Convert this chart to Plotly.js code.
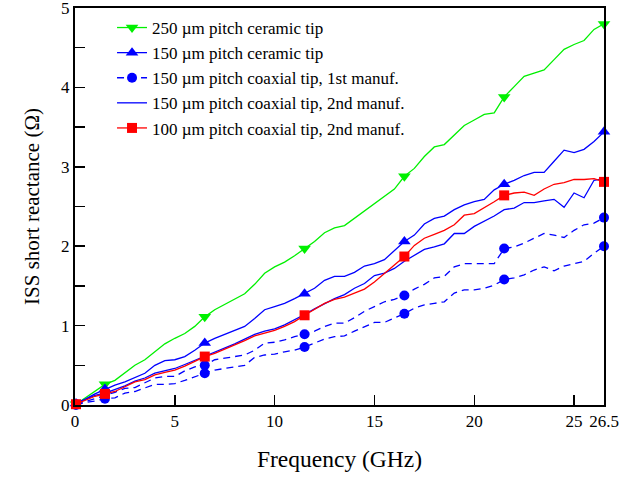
<!DOCTYPE html>
<html>
<head>
<meta charset="utf-8">
<script src="https://cdn.plot.ly/plotly-3.0.1.min.js"></script>
<style>html,body{margin:0;padding:0;background:#fff;}#chart{width:631px;height:478px;}</style>
</head>
<body>
<div id="chart"></div>
<script>
// Frequency grid (GHz)
var freq = [0.05,0.5,1,1.5,2,2.5,3,3.5,4,4.5,5,5.5,6,6.5,7,7.5,8,8.5,9,9.5,10,10.5,11,11.5,12,12.5,13,13.5,14,14.5,15,15.5,16,16.5,17,17.5,18,18.5,19,19.5,20,20.5,21,21.5,22,22.5,23,23.5,24,24.5,25,25.5,26,26.5];
// Frequencies where a symbol is shown
var markerFreq = [0.05,1.5,6.5,11.5,16.5,21.5,26.5];

var ceramic250 = [0.01,0.09,0.18,0.26,0.31,0.41,0.50,0.57,0.67,0.77,0.84,0.90,0.99,1.11,1.20,1.27,1.33,1.40,1.52,1.66,1.74,1.80,1.88,1.97,2.06,2.17,2.23,2.26,2.35,2.45,2.53,2.62,2.72,2.88,2.98,3.13,3.25,3.28,3.40,3.52,3.59,3.66,3.68,3.88,4.01,4.14,4.18,4.22,4.35,4.48,4.54,4.59,4.73,4.80];
var ceramic150 = [0.02,0.07,0.14,0.20,0.25,0.29,0.34,0.40,0.50,0.56,0.57,0.61,0.69,0.78,0.84,0.89,0.93,0.99,1.09,1.20,1.24,1.28,1.34,1.40,1.47,1.57,1.62,1.62,1.67,1.75,1.78,1.83,1.94,2.06,2.14,2.28,2.35,2.38,2.46,2.52,2.56,2.59,2.71,2.78,2.83,2.89,2.93,2.93,3.07,3.21,3.18,3.22,3.32,3.44];
var coax150first_a = [0.01,0.04,0.08,0.12,0.16,0.21,0.22,0.28,0.34,0.36,0.36,0.43,0.48,0.50,0.57,0.59,0.61,0.63,0.69,0.78,0.79,0.82,0.86,0.89,0.93,0.99,1.03,1.03,1.10,1.18,1.24,1.30,1.33,1.38,1.46,1.52,1.60,1.62,1.74,1.78,1.78,1.78,1.78,1.97,1.99,2.04,2.10,2.16,2.14,2.11,2.20,2.27,2.29,2.36];
var coax150first_b = [0.00,0.03,0.05,0.08,0.09,0.15,0.17,0.22,0.26,0.26,0.27,0.31,0.36,0.40,0.44,0.46,0.48,0.50,0.60,0.63,0.64,0.67,0.69,0.73,0.78,0.83,0.86,0.87,0.93,0.99,1.04,1.04,1.09,1.15,1.22,1.26,1.28,1.30,1.41,1.45,1.45,1.47,1.51,1.58,1.60,1.64,1.70,1.74,1.69,1.75,1.78,1.81,1.91,2.00];
var coax150second = [0.02,0.07,0.12,0.15,0.19,0.24,0.30,0.34,0.40,0.43,0.46,0.51,0.56,0.62,0.67,0.72,0.77,0.83,0.89,0.93,0.96,1.01,1.07,1.14,1.21,1.28,1.34,1.39,1.47,1.53,1.63,1.66,1.72,1.81,1.89,1.96,1.99,2.03,2.16,2.16,2.25,2.31,2.38,2.46,2.48,2.55,2.55,2.57,2.59,2.49,2.67,2.61,2.83,2.85];
var coax100second = [0.01,0.06,0.11,0.14,0.17,0.23,0.29,0.32,0.38,0.41,0.44,0.49,0.55,0.61,0.65,0.70,0.75,0.81,0.87,0.91,0.94,0.99,1.05,1.13,1.20,1.28,1.33,1.36,1.41,1.46,1.55,1.66,1.76,1.87,2.01,2.10,2.15,2.20,2.27,2.39,2.41,2.48,2.56,2.64,2.67,2.68,2.64,2.72,2.78,2.80,2.84,2.84,2.85,2.81];

var seriesNames = [
  "250 \u00b5m pitch ceramic tip",
  "150 \u00b5m pitch ceramic tip",
  "150 \u00b5m pitch coaxial tip, 1st manuf.",
  "150 \u00b5m pitch coaxial tip, 2nd manuf.",
  "100 \u00b5m pitch coaxial tip, 2nd manuf."
];
var xTickVals = [0,5,10,15,20,25,26.5];
var xTickText = ["0","5","10","15","20","25","26.5"];
var yTickVals = [0,1,2,3,4,5];
var yTickText = ["0","1","2","3","4","5"];

function colorsFor(col){
  return freq.map(function(f){ return markerFreq.indexOf(f) >= 0 ? col : 'rgba(0,0,0,0)'; });
}

function trace(y, name, col, symbol, size, dash, showlegend, open){
  var mk = {symbol: symbol, size: size};
  if (open) {
    mk.color = 'rgba(0,0,0,0)';
    mk.line = {color: colorsFor(col), width: 1.5};
  } else {
    mk.color = colorsFor(col);
    mk.line = {width: 0};
  }
  return {
    x: freq, y: y, name: name, type: 'scatter', mode: 'lines+markers',
    line: {color: col, width: 1.3, dash: dash || 'solid'},
    marker: mk, showlegend: showlegend, hoverinfo: 'skip', cliponaxis: false
  };
}

var GREEN = '#00f000', BLUE = '#0000ff', RED = '#ff0000';
var data = [
  trace(ceramic250, seriesNames[0], GREEN, 'triangle-down', 11, null, true),
  trace(ceramic150, seriesNames[1], BLUE, 'triangle-up', 11, null, true),
  trace(coax150first_a, seriesNames[2], BLUE, 'circle', 10, '7px,5px', true),
  trace(coax150first_b, seriesNames[2], BLUE, 'circle', 10, '7px,5px', false),
  trace(coax150second, seriesNames[3], BLUE, 'square-open', 9, null, true, true),
  trace(coax100second, seriesNames[4], RED, 'square', 10, null, true)
];

var FONT = 'Liberation Serif';
var layout = {
  width: 631, height: 478,
  margin: {l: 75, r: 27, t: 8, b: 73},
  paper_bgcolor: '#fff', plot_bgcolor: '#fff',
  font: {family: FONT, color: '#000', size: 17},
  showlegend: true,
  legend: {x: 0.07, y: 0.995, xanchor: 'left', yanchor: 'top', bgcolor: 'rgba(0,0,0,0)',
           font: {family: FONT, size: 17, color: '#000'}, tracegroupgap: 0},
  xaxis: {
    range: [0, 26.5], tickmode: 'array', tickvals: xTickVals, ticktext: xTickText, tickangle: 0,
    ticks: 'inside', ticklen: 10, tickwidth: 1.5, tickcolor: '#000',
    showline: true, linewidth: 2, linecolor: '#000', mirror: true, ticklabeloverflow: 'allow',
    showgrid: false, zeroline: false, tickfont: {family: FONT, size: 17},
    title: {text: 'Frequency (GHz)', font: {family: FONT, size: 23.5}, standoff: 20}
  },
  yaxis: {
    range: [0, 5], tickmode: 'array', tickvals: yTickVals, ticktext: yTickText,
    ticks: 'inside', ticklen: 10, tickwidth: 1.5, tickcolor: '#000', ticklabeloverflow: 'allow',
    minor: {tickmode: 'linear', tick0: 0, dtick: 0.5, ticks: 'inside', ticklen: 10, tickwidth: 1.5, tickcolor: '#000', showgrid: false},
    showline: true, linewidth: 2, linecolor: '#000', mirror: true,
    showgrid: false, zeroline: false, tickfont: {family: FONT, size: 17},
    title: {text: 'ISS short reactance (\u03a9)', font: {family: FONT, size: 21}, standoff: 16}
  }
};

Plotly.newPlot('chart', data, layout, {staticPlot: true, displayModeBar: false});
</script>
</body>
</html>
